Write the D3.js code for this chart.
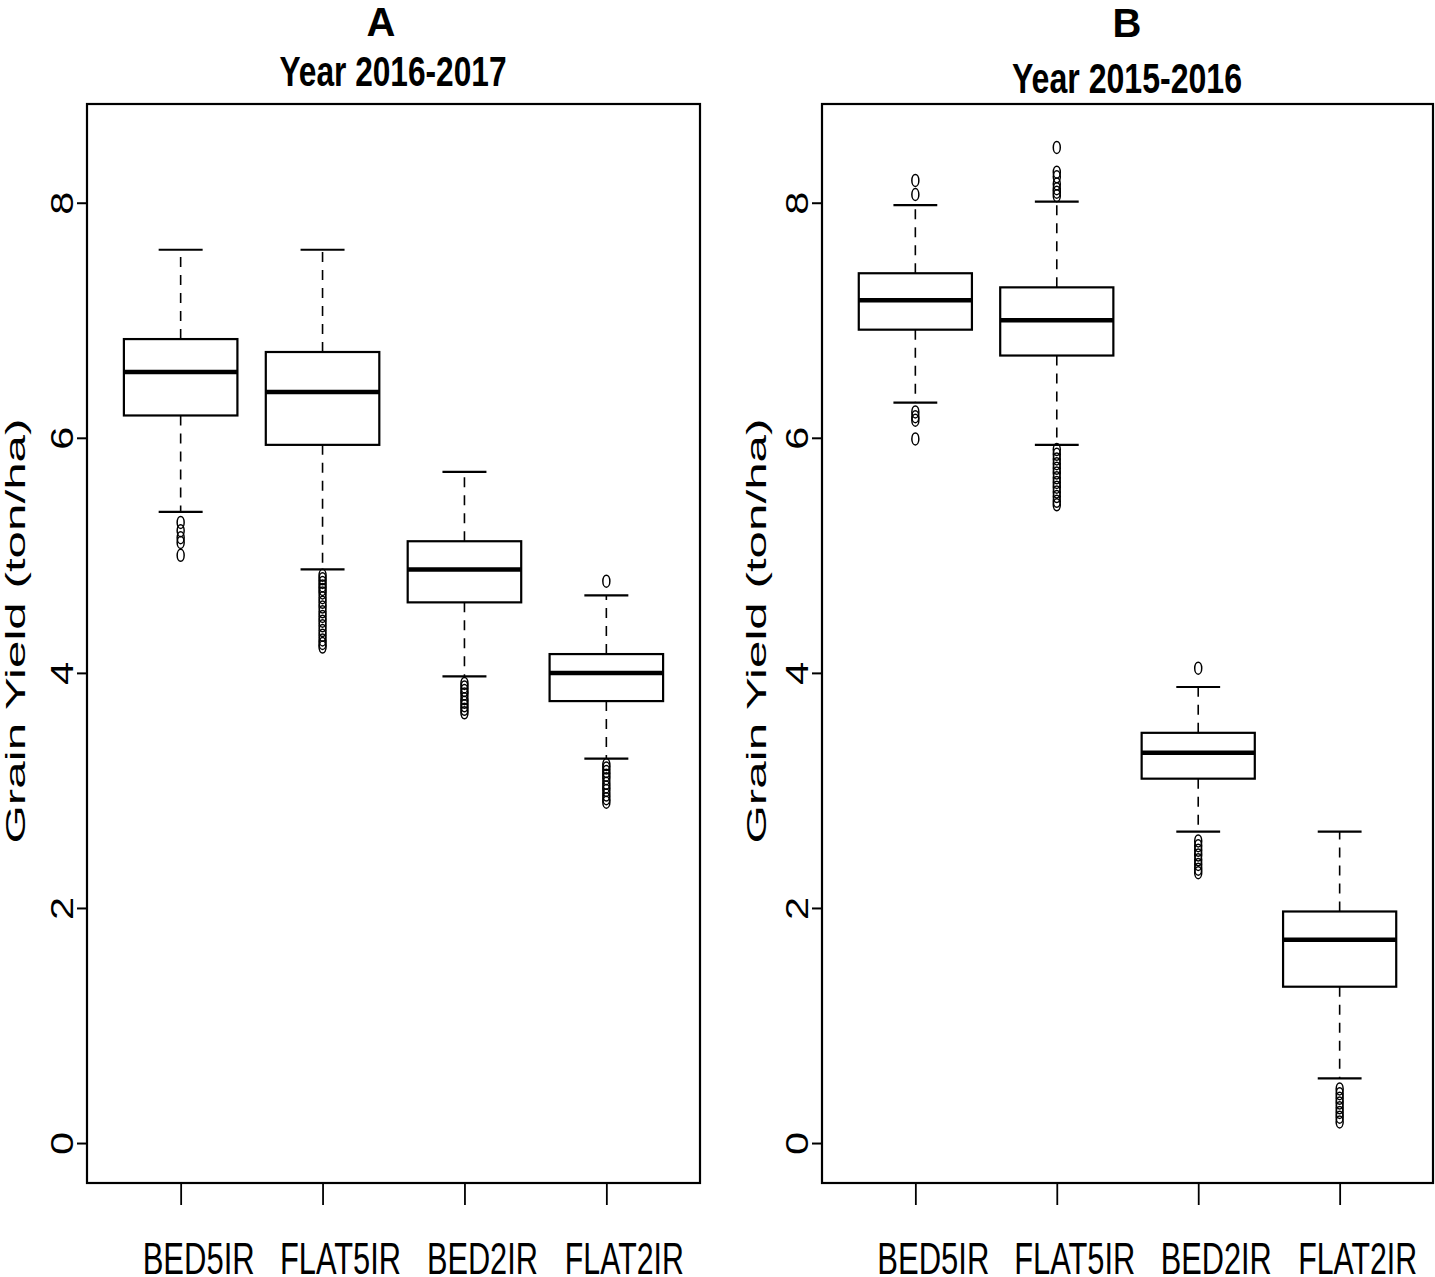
<!DOCTYPE html>
<html lang="en">
<head>
    <meta charset="UTF-8">
    <title>Grain Yield boxplots</title>
    <script src="https://d3js.org/d3.v7.min.js"></script>
    <style>
        body {
            margin: 0;
            background: #fff;
            font-family: "Liberation Sans", Arial, sans-serif;
        }
    </style>
</head>
<body>
    <div id="chart"></div>

    <script>
        // Data
        const categories = ["BED5IR", "FLAT5IR", "BED2IR", "FLAT2IR"];
        const yTicks = [0, 2, 4, 6, 8];
        const panelLetters = ["A", "B"];
        const panelTitles = ["Year 2016-2017", "Year 2015-2016"];

        // Panel A - Year 2016-2017
        const lowA = [5.37, 4.88, 3.97, 3.27];
        const q1A = [6.19, 5.94, 4.60, 3.76];
        const medA = [6.56, 6.39, 4.88, 4.00];
        const q3A = [6.84, 6.73, 5.12, 4.16];
        const highA = [7.60, 7.60, 5.71, 4.66];
        const outA = [
            [5.28, 5.21, 5.15, 5.11, 5.00],
            [4.83, 4.80, 4.77, 4.74, 4.71, 4.68, 4.64, 4.60, 4.56, 4.52, 4.48, 4.44, 4.40, 4.36, 4.32, 4.28, 4.25, 4.22],
            [3.91, 3.88, 3.85, 3.82, 3.78, 3.75, 3.72, 3.69, 3.66],
            [4.78, 3.22, 3.19, 3.16, 3.13, 3.10, 3.06, 3.03, 3.00, 2.96, 2.93, 2.90]
        ];

        // Panel B - Year 2015-2016
        const lowB = [6.30, 5.94, 2.65, 0.55];
        const q1B = [6.92, 6.70, 3.10, 1.33];
        const medB = [7.17, 7.00, 3.32, 1.73];
        const q3B = [7.40, 7.28, 3.49, 1.97];
        const highB = [7.98, 8.01, 3.88, 2.65];
        const outB = [
            [8.19, 8.07, 6.22, 6.18, 6.15, 5.99],
            [8.47, 8.26, 8.22, 8.16, 8.12, 8.09, 8.06, 5.90, 5.86, 5.82, 5.78, 5.74, 5.70, 5.66, 5.62, 5.58, 5.54, 5.50, 5.46, 5.43],
            [4.04, 2.57, 2.53, 2.49, 2.45, 2.41, 2.37, 2.33, 2.30],
            [0.46, 0.42, 0.38, 0.34, 0.30, 0.26, 0.22, 0.18]
        ];

        const width = 1435;
        const height = 1277;
        const plotTop = 104, plotBottom = 1183;

        const panels = [
            { left: 87, right: 700, low: lowA, q1: q1A, med: medA, q3: q3A, high: highA, out: outA,
              letterX: 381, letterY: 36, titleX: 393, titleY: 86, titleLen: 227, labelX: 25 },
            { left: 822, right: 1433, low: lowB, q1: q1B, med: medB, q3: q3B, high: highB, out: outB,
              letterX: 1127, letterY: 37, titleX: 1127, titleY: 93, titleLen: 230, labelX: 766 }
        ];
        const labelLens = [112, 121, 111, 119];

        const svg = d3.select("#chart")
            .append("svg")
            .attr("width", width)
            .attr("height", height);

        // R style y range: ylim 0..8.5 plus 4% on each side
        const y = d3.scaleLinear()
            .domain([-0.34, 8.84])
            .range([plotBottom, plotTop]);

        panels.forEach((p, pi) => {
            const g = svg.append("g");

            const x = d3.scaleLinear()
                .domain([0.34, 4.66])
                .range([p.left, p.right]);
            const unit = x(2) - x(1);
            const boxW = 0.8 * unit;
            const capW = 0.31 * unit;

            const stats = categories.map((c, i) => ({
                cat: c, pos: i + 1,
                low: p.low[i], q1: p.q1[i], med: p.med[i], q3: p.q3[i], high: p.high[i], out: p.out[i]
            }));

            // letter and title
            g.append("text")
                .attr("x", p.letterX)
                .attr("y", p.letterY)
                .attr("text-anchor", "middle")
                .attr("font-size", 40)
                .attr("font-weight", "bold")
                .text(panelLetters[pi]);

            g.append("text")
                .attr("x", p.titleX)
                .attr("y", p.titleY)
                .attr("text-anchor", "middle")
                .attr("font-size", 42)
                .attr("font-weight", "bold")
                .attr("textLength", p.titleLen)
                .attr("lengthAdjust", "spacingAndGlyphs")
                .text(panelTitles[pi]);

            // y axis
            const yAxis = g.append("g")
                .attr("transform", `translate(${p.left},0)`)
                .call(d3.axisLeft(y).tickValues(yTicks).tickSize(10).tickSizeOuter(0));
            yAxis.select(".domain").remove();
            yAxis.selectAll(".tick line").attr("stroke", "#000").attr("stroke-width", 2);
            yAxis.selectAll(".tick text")
                .attr("x", 0)
                .attr("y", -14)
                .attr("dy", 0)
                .attr("text-anchor", "middle")
                .attr("transform", "rotate(-90) scale(1.3,1)")
                .attr("font-size", 32)
                .attr("font-family", "'Liberation Sans', Arial, sans-serif")
                .attr("fill", "#000");

            // x axis
            const xAxis = g.append("g")
                .attr("transform", `translate(0,${plotBottom})`)
                .call(d3.axisBottom(x).tickValues([1, 2, 3, 4]).tickSize(22).tickFormat(""));
            xAxis.select(".domain").remove();
            xAxis.selectAll(".tick line").attr("stroke", "#000").attr("stroke-width", 1.8);

            g.selectAll(".xlab")
                .data(stats)
                .enter()
                .append("text")
                .attr("class", "xlab")
                .attr("x", d => x(d.pos) + 18)
                .attr("y", 1274)
                .attr("text-anchor", "middle")
                .attr("font-size", 44)
                .attr("textLength", (d, i) => labelLens[i])
                .attr("lengthAdjust", "spacingAndGlyphs")
                .text(d => d.cat);

            // y label
            g.append("text")
                .attr("transform", `translate(${p.labelX},631) rotate(-90)`)
                .attr("text-anchor", "middle")
                .attr("font-size", 28)
                .attr("textLength", 425)
                .attr("lengthAdjust", "spacingAndGlyphs")
                .text("Grain Yield (ton/ha)");

            // boxes
            const b = g.selectAll(".box")
                .data(stats)
                .enter()
                .append("g")
                .attr("class", "box");

            // whiskers (dashed)
            b.append("line")
                .attr("x1", d => x(d.pos)).attr("x2", d => x(d.pos))
                .attr("y1", d => y(d.q3)).attr("y2", d => y(d.high))
                .attr("stroke", "#000").attr("stroke-width", 1.6)
                .attr("stroke-dasharray", "10,8");
            b.append("line")
                .attr("x1", d => x(d.pos)).attr("x2", d => x(d.pos))
                .attr("y1", d => y(d.q1)).attr("y2", d => y(d.low))
                .attr("stroke", "#000").attr("stroke-width", 1.6)
                .attr("stroke-dasharray", "10,8");

            // caps
            b.append("line")
                .attr("x1", d => x(d.pos) - capW / 2).attr("x2", d => x(d.pos) + capW / 2)
                .attr("y1", d => y(d.high)).attr("y2", d => y(d.high))
                .attr("stroke", "#000").attr("stroke-width", 2.2);
            b.append("line")
                .attr("x1", d => x(d.pos) - capW / 2).attr("x2", d => x(d.pos) + capW / 2)
                .attr("y1", d => y(d.low)).attr("y2", d => y(d.low))
                .attr("stroke", "#000").attr("stroke-width", 2.2);

            // box
            b.append("rect")
                .attr("x", d => x(d.pos) - boxW / 2)
                .attr("width", boxW)
                .attr("y", d => y(d.q3))
                .attr("height", d => y(d.q1) - y(d.q3))
                .attr("fill", "#fff")
                .attr("stroke", "#000")
                .attr("stroke-width", 2.2);

            // median
            b.append("line")
                .attr("x1", d => x(d.pos) - boxW / 2).attr("x2", d => x(d.pos) + boxW / 2)
                .attr("y1", d => y(d.med)).attr("y2", d => y(d.med))
                .attr("stroke", "#000").attr("stroke-width", 4.5);

            // outliers
            b.selectAll("ellipse")
                .data(d => d.out.map(v => ({ pos: d.pos, v })))
                .enter()
                .append("ellipse")
                .attr("cx", d => x(d.pos))
                .attr("cy", d => y(d.v))
                .attr("rx", 3.5)
                .attr("ry", 6)
                .attr("fill", "none")
                .attr("stroke", "#000")
                .attr("stroke-width", 1.5);

            // plot frame
            g.append("rect")
                .attr("x", p.left)
                .attr("y", plotTop)
                .attr("width", p.right - p.left)
                .attr("height", plotBottom - plotTop)
                .attr("fill", "none")
                .attr("stroke", "#000")
                .attr("stroke-width", 2.2);
        });
    </script>
</body>
</html>
